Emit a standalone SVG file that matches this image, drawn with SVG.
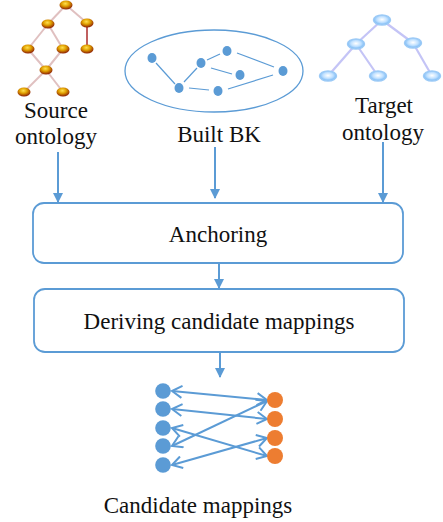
<svg xmlns="http://www.w3.org/2000/svg" width="443" height="522" viewBox="0 0 443 522">
<defs>
<style>
.lbl{font-family:"Liberation Serif","Times New Roman",serif;font-size:23px;fill:#111;text-anchor:middle}
.box{fill:#fff;stroke:#5b9bd5;stroke-width:1.8}
.flow{stroke:#5b9bd5;stroke-width:2;fill:none;marker-end:url(#tri)}
.sedge{stroke:#e0c0c0;stroke-width:2;fill:none}
.tedge{stroke:#c4c4f6;stroke-width:2.2;fill:none}
.bk{stroke:#5b9bd5;stroke-width:1.2;fill:none}
.bkn{fill:#5b9bd5}
.map{stroke:#5b9bd5;stroke-width:2;fill:none;marker-start:url(#vee);marker-end:url(#vee)}
.gold{fill:url(#goldG)}
.tn{fill:url(#tG);stroke:#9ccaf6;stroke-width:1.5}
.bn{fill:#5b9bd5}
.on{fill:#ed7d31}
</style>
<radialGradient id="goldG" cx="45%" cy="35%" r="65%">
<stop offset="0" stop-color="#ffe050"/>
<stop offset="0.45" stop-color="#e0a000"/>
<stop offset="1" stop-color="#8a1c05"/>
</radialGradient>
<radialGradient id="tG" cx="50%" cy="45%" r="60%">
<stop offset="0" stop-color="#ffffff"/>
<stop offset="0.5" stop-color="#bfe0ff"/>
<stop offset="1" stop-color="#5aa8f0"/>
</radialGradient>
<marker id="tri" markerWidth="10" markerHeight="10" refX="9" refY="5" orient="auto" markerUnits="userSpaceOnUse">
<path d="M0,0 L10,5 L0,10 Z" fill="#5b9bd5"/>
</marker>
<marker id="vee" markerWidth="14" markerHeight="14" refX="11" refY="7" orient="auto-start-reverse" markerUnits="userSpaceOnUse">
<path d="M1,1 L11,7 L1,13" fill="none" stroke="#5b9bd5" stroke-width="2"/>
</marker>
</defs>

<g id="source-ontology">
<g class="sedge">
<line x1="66" y1="5" x2="48" y2="24"/>
<line x1="66" y1="5" x2="87" y2="23"/>
<line x1="48" y1="24" x2="28" y2="49"/>
<line x1="48" y1="24" x2="63" y2="49"/>
<line x1="28" y1="49" x2="46" y2="70"/>
<line x1="63" y1="49" x2="46" y2="70"/>
<line x1="46" y1="70" x2="24" y2="92"/>
<line x1="46" y1="70" x2="63" y2="92"/>
</g>
<line x1="87" y1="23" x2="87" y2="49" stroke="#c06060" stroke-width="2"/>
<ellipse class="gold" cx="66" cy="5" rx="6.5" ry="4.5"/>
<ellipse class="gold" cx="48" cy="24" rx="6.5" ry="4.5"/>
<ellipse class="gold" cx="87" cy="23" rx="6.5" ry="4.5"/>
<ellipse class="gold" cx="28" cy="49" rx="6.5" ry="4.5"/>
<ellipse class="gold" cx="63" cy="49" rx="6.5" ry="4.5"/>
<ellipse class="gold" cx="87" cy="49" rx="6.5" ry="4.5"/>
<ellipse class="gold" cx="46" cy="70" rx="6.5" ry="4.5"/>
<ellipse class="gold" cx="24" cy="92" rx="6.5" ry="4.5"/>
<ellipse class="gold" cx="63" cy="92" rx="6.5" ry="4.5"/>
<text class="lbl" x="56" y="118">Source</text>
<text class="lbl" x="56" y="144">ontology</text>
</g>

<g id="built-bk">
<ellipse cx="214" cy="71" rx="89" ry="41" fill="none" stroke="#5b9bd5" stroke-width="1.3"/>
<g class="bk">
<line x1="156" y1="63" x2="175" y2="84"/>
<line x1="184" y1="82" x2="197" y2="68"/>
<line x1="207" y1="60" x2="220" y2="54"/>
<line x1="211" y1="68" x2="232" y2="74"/>
<line x1="237" y1="53" x2="274" y2="67"/>
<line x1="189" y1="88" x2="209" y2="90"/>
<line x1="228" y1="89" x2="273" y2="75"/>
</g>
<ellipse class="bkn" cx="152" cy="58" rx="4.5" ry="5"/>
<ellipse class="bkn" cx="179" cy="88" rx="4.5" ry="5"/>
<ellipse class="bkn" cx="201" cy="63" rx="4.5" ry="5"/>
<ellipse class="bkn" cx="227" cy="51" rx="4.5" ry="5"/>
<ellipse class="bkn" cx="240" cy="75" rx="4.5" ry="5"/>
<ellipse class="bkn" cx="218" cy="91" rx="4.5" ry="5"/>
<ellipse class="bkn" cx="283" cy="71" rx="4.5" ry="5"/>
<text class="lbl" x="219" y="142">Built BK</text>
</g>

<g id="target-ontology">
<g class="tedge">
<line x1="382" y1="20" x2="356" y2="44"/>
<line x1="382" y1="20" x2="413" y2="43"/>
<line x1="356" y1="44" x2="328" y2="76"/>
<line x1="356" y1="44" x2="378" y2="76"/>
<line x1="413" y1="43" x2="432" y2="76"/>
</g>
<ellipse class="tn" cx="382" cy="20" rx="8.5" ry="5"/>
<ellipse class="tn" cx="356" cy="44" rx="8.5" ry="5"/>
<ellipse class="tn" cx="413" cy="43" rx="8.5" ry="5"/>
<ellipse class="tn" cx="328" cy="76" rx="8.5" ry="5"/>
<ellipse class="tn" cx="378" cy="76" rx="8.5" ry="5"/>
<ellipse class="tn" cx="432" cy="76" rx="8.5" ry="5"/>
<text class="lbl" x="384" y="113">Target</text>
<text class="lbl" x="383" y="140">ontology</text>
</g>

<g id="anchoring">
<rect class="box" x="33" y="203" width="370" height="60" rx="11"/>
<text class="lbl" x="218" y="242">Anchoring</text>
</g>

<g id="deriving">
<rect class="box" x="34" y="289" width="370" height="63" rx="11"/>
<text class="lbl" x="219" y="329">Deriving candidate mappings</text>
</g>

<g id="connectors">
<line class="flow" x1="58" y1="152" x2="58" y2="202"/>
<line class="flow" x1="215" y1="147" x2="215" y2="198"/>
<line class="flow" x1="383" y1="142" x2="383" y2="202"/>
<line class="flow" x1="219" y1="263" x2="219" y2="288"/>
<line class="flow" x1="220" y1="352" x2="220" y2="377"/>
</g>

<g id="candidate-mappings">
<g id="mapping-links">
<line class="map" x1="172" y1="391" x2="267" y2="400"/>
<line class="map" x1="172" y1="409" x2="267" y2="419"/>
<line class="map" x1="172" y1="428" x2="267" y2="456"/>
<line class="map" x1="172" y1="446" x2="267" y2="401"/>
<line class="map" x1="172" y1="465" x2="267" y2="438"/>
</g>
<circle class="bn" cx="163" cy="391" r="7.8"/>
<circle class="bn" cx="163" cy="409" r="7.8"/>
<circle class="bn" cx="163" cy="428" r="7.8"/>
<circle class="bn" cx="163" cy="446" r="7.8"/>
<circle class="bn" cx="163" cy="465" r="7.8"/>
<circle class="on" cx="275" cy="400" r="8"/>
<circle class="on" cx="275" cy="419" r="8"/>
<circle class="on" cx="275" cy="438" r="8"/>
<circle class="on" cx="275" cy="456" r="8"/>
<text class="lbl" x="198" y="513">Candidate mappings</text>
</g>
</svg>
